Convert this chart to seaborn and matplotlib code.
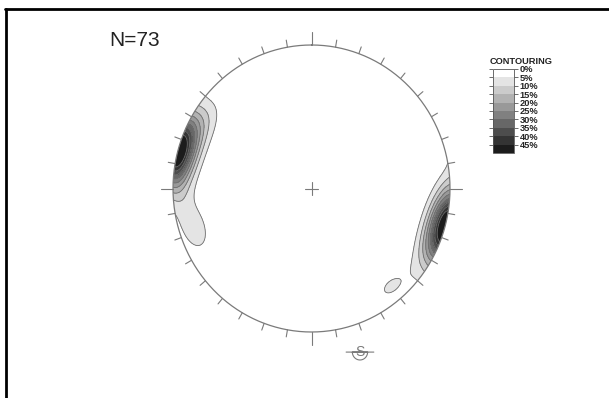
import numpy as np
import pandas as pd
import seaborn as sns
import matplotlib
matplotlib.use('Agg')
import matplotlib.pyplot as plt
from matplotlib.lines import Line2D
from matplotlib.patches import Circle

# poles (trend, plunge in degrees)
west_trend = [274, 276, 277, 278, 279, 280, 281, 282, 283, 283, 284, 284, 285, 285, 286, 286,
              287, 288, 288, 289, 290, 291, 292, 293, 294, 296, 298, 300, 302, 305, 284, 287]
west_plunge = [2, 3, 4, 3, 5, 4, 6, 3, 5, 4, 6, 3, 5, 4, 7, 5,
               2, 4, 6, 5, 7, 4, 6, 8, 7, 9, 10, 11, 9, 10, 1, 2]
east_trend = [94, 96, 98, 99, 100, 101, 102, 103, 103, 104, 104, 105, 105, 106, 106,
              107, 108, 108, 109, 110, 111, 112, 113, 114, 116, 118, 120, 105, 107]
east_plunge = [1, 2, 3, 2, 4, 3, 5, 1, 3, 4, 2, 5, 3, 4, 2,
               5, 3, 4, 2, 5, 3, 4, 6, 3, 5, 4, 6, 4, 5]
tail_trend = [268, 265, 257, 254, 252, 250, 251, 248]
tail_plunge = [6, 7, 10, 12, 13, 11, 14, 10]
blob_trend = [140, 141, 139, 140]
blob_plunge = [12, 11, 13, 11]

levels = [0, 5, 10, 15, 20, 25, 30, 35, 40, 45]
level_labels = ['0%', '5%', '10%', '15%', '20%', '25%', '30%', '35%', '40%', '45%']

df = pd.DataFrame({
    'trend': west_trend + east_trend + tail_trend + blob_trend,
    'plunge': west_plunge + east_plunge + tail_plunge + blob_plunge,
})

sns.set_theme(style='white')
plt.rcParams['font.family'] = ['Liberation Sans', 'DejaVu Sans']


def to_vec(trend, plunge):
    t = np.radians(trend)
    p = np.radians(plunge)
    return np.stack([np.cos(p) * np.sin(t), np.cos(p) * np.cos(t), np.sin(p)], axis=-1)


# density grid on equal-area (lower hemisphere) net
g = np.linspace(-1.03, 1.03, 261)
gx, gy = np.meshgrid(g, g)
rc = np.clip(np.hypot(gx, gy), 0, 1)
g_plunge = 90 - 2 * np.degrees(np.arcsin(rc / np.sqrt(2)))
g_trend = np.degrees(np.arctan2(gx, gy))
G = to_vec(g_trend, g_plunge)
P = to_vec(df['trend'].values, df['plunge'].values)
cosang = np.abs(G @ P.T)
sigma = 0.14
dens = 100 / len(df) * np.exp((cosang - 1) / sigma ** 2).sum(-1)

fills = ['white'] + sns.blend_palette(['#e4e4e4', '#1c1c1c'], 9)
bounds = levels + [max(100, dens.max() + 1)]

fig = plt.figure(figsize=(6.09, 3.98), dpi=100)
ax = fig.add_axes([145.3 / 609, 37.3 / 398, 332.4 / 609, 344.4 / 398])
ax.set_xlim(-1.2, 1.2)
ax.set_ylim(-1.2, 1.2)
ax.axis('off')

clip = Circle((0, 0), 1, transform=ax.transData)
cs = ax.contourf(gx, gy, dens, levels=bounds, colors=fills)
cs.set_clip_path(clip)
cl = ax.contour(gx, gy, dens, levels=levels[1:], colors='#6e6e6e', linewidths=0.6)
cl.set_clip_path(clip)

# primitive, ticks, centre cross
th = np.radians(np.linspace(0, 360, 721))
ax.plot(np.sin(th), np.cos(th), color='#7a7a7a', lw=0.9)
for az in range(0, 360, 10):
    a = np.radians(az)
    ln = 0.09 if az % 90 == 0 else 0.05
    ax.plot([np.sin(a), np.sin(a) * (1 + ln)], [np.cos(a), np.cos(a) * (1 + ln)],
            color='#7a7a7a', lw=0.8)
ax.plot([-0.045, 0.045], [0, 0], color='#7a7a7a', lw=0.8)
ax.plot([0, 0], [-0.042, 0.042], color='#7a7a7a', lw=0.8)

# south marker
sx, sy = 0.35, -1.14
ax.text(sx, sy, 'S', ha='center', va='center', fontsize=10, color='#7a7a7a')
u = np.linspace(np.pi, 2 * np.pi, 30)
ax.plot(np.r_[sx - 0.1, sx - 0.055, sx + 0.055 * np.cos(u[::-1]), sx + 0.1],
        np.r_[sy, sy, sy + 0.055 * np.sin(u), sy],
        color='#7a7a7a', lw=0.8)

# legend
cax = fig.add_axes([493 / 609, 1 - 153 / 398, 21 / 609, 84 / 398])
cb = fig.colorbar(cs, cax=cax, ticks=levels, spacing='uniform', drawedges=True)
cax.invert_yaxis()
cb.ax.set_yticklabels(level_labels, fontsize=6.7, fontweight='bold')
cb.outline.set_edgecolor('#555555')
cb.outline.set_linewidth(0.6)
cb.dividers.set_color('#555555')
cb.dividers.set_linewidth(0.6)
cax.tick_params(axis='y', left=True, right=True, direction='out', length=3, width=0.6,
                pad=1, color='#555555')
fig.text(521 / 609, 1 - 63.5 / 398, 'CONTOURING', ha='center', va='baseline',
         fontsize=6.7, fontweight='bold', color='#222222')

fig.text(109 / 609, 1 - 40 / 398, f'N={len(df)}', fontsize=15, va='center', color='#222222')

# frame lines at top and left
fig.add_artist(Line2D([5 / 609, 1], [1 - 9 / 398, 1 - 9 / 398], color='black', lw=2))
fig.add_artist(Line2D([5.5 / 609, 5.5 / 609], [0, 1 - 9 / 398], color='black', lw=2))

fig.savefig('out.png', dpi=100)
